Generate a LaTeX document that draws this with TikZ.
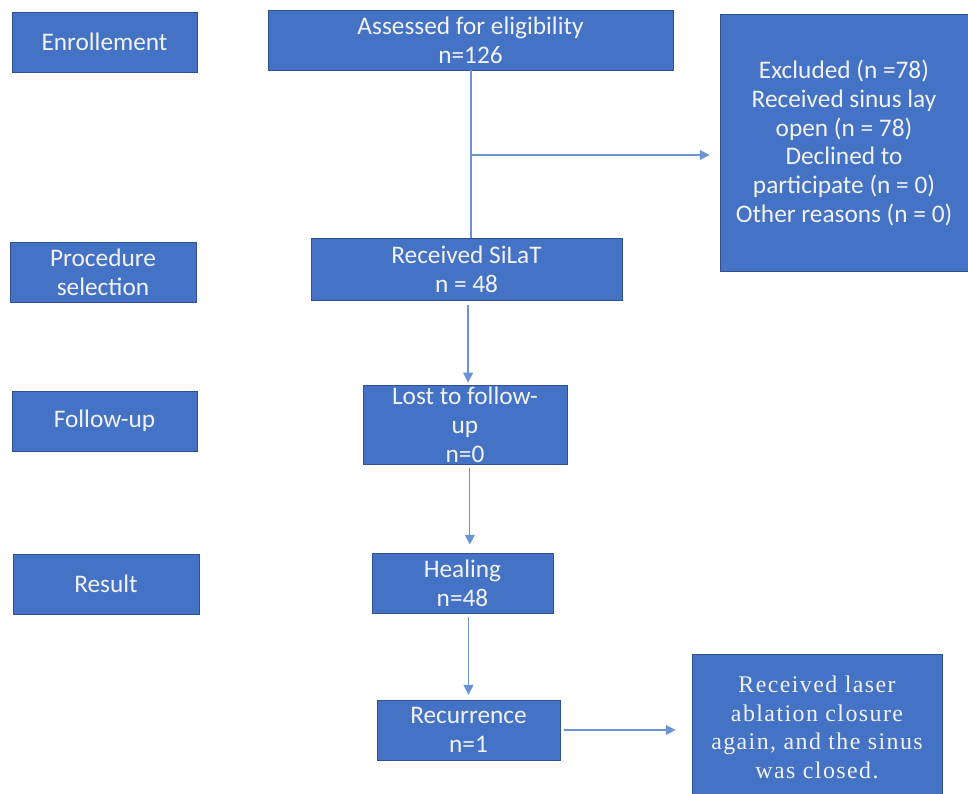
\documentclass[tikz,border=0pt]{standalone}
\usepackage{fontspec}
\setmainfont{Carlito}
\newfontfamily\laserfont[LetterSpace=6]{Liberation Serif}
\usetikzlibrary{arrows.meta,calc}
\definecolor{boxblue}{HTML}{4472C4}
\definecolor{boxedge}{HTML}{2F528F}
\definecolor{flowblue}{HTML}{6A93D6}
\begin{document}
\begin{tikzpicture}[
    stage/.style={draw=boxedge,fill=boxblue,text=white!95!black,line width=0.6pt,
        align=center,inner sep=0pt,font=\fontsize{18}{20.5}\selectfont},
    flow/.style={draw=flowblue,line width=0.9pt,-{Triangle[length=7pt,width=7pt]}},
    trunk/.style={draw=flowblue,line width=0.9pt}
]
    \useasboundingbox (0,0) rectangle (24.2,-19.825);
    \clip (0,0) rectangle (24.2,-19.825);
    %\draw (0,0) grid (24,-19);
    % left column
    \node[stage,minimum width=4.625cm,minimum height=1.5cm] (enrol) at (2.6125,-1.05) {Enrollement};
    \node[stage,minimum width=4.65cm,minimum height=1.5cm] (proc) at (2.575,-6.8) {Procedure\\selection};
    \node[stage,minimum width=4.625cm,minimum height=1.5cm] (fup) at (2.6125,-10.525) {Follow-up};
    \node[stage,minimum width=4.65cm,minimum height=1.5cm] (result) at (2.65,-14.6) {Result};
    % main flow
    \node[stage,minimum width=10.125cm,minimum height=1.5cm] (assess) at (11.7625,-1.0) {Assessed for eligibility\\n=126};
    \node[stage,minimum width=6.2cm,minimum height=6.425cm] (excl) at (21.1,-3.575) {Excluded (n =78)\\Received sinus lay\\open (n = 78)\\Declined to\\participate (n = 0)\\Other reasons (n = 0)};
    \node[stage,minimum width=7.775cm,minimum height=1.55cm] (silat) at (11.6625,-6.725) {Received SiLaT\\n = 48};
    \node[stage,minimum width=5.1cm,minimum height=1.975cm] (lost) at (11.625,-10.6125) {Lost to follow-\\up\\n=0};
    \node[stage,minimum width=4.525cm,minimum height=1.5cm] (heal) at (11.5625,-14.575) {Healing\\n=48};
    \node[stage,minimum width=4.575cm,minimum height=1.5cm] (recur) at (11.7125,-18.25) {Recurrence\\n=1};
    % box runs past the bottom edge
    \node[stage,minimum width=6.25cm,minimum height=5.1cm,font=\laserfont\fontsize{17}{20.5}\selectfont] (laser) at (20.425,-18.9) {Received laser\\ablation closure\\again, and the sinus\\was closed.\\\mbox{}\\\mbox{}};
    % connectors
    \coordinate (split) at (11.775,-3.875);
    \draw[trunk] (split |- assess.south) -- (split |- silat.north);
    \draw[flow,shorten >=0.25cm] (split) -- (split -| excl.west);
    \draw[flow,shorten <=0.12cm,shorten >=0.05cm] ([xshift=0.04cm]silat.south) -- ([xshift=0.04cm]silat.south |- lost.north);
    \draw[flow,shorten <=0.08cm,shorten >=0.2cm] ([xshift=0.12cm]lost.south) -- ([xshift=0.12cm]lost.south |- heal.north);
    \draw[flow,shorten <=0.1cm,shorten >=0.12cm] (heal.south -| recur.north) -- (recur.north);
    \draw[flow,shorten <=0.1cm,shorten >=0.4cm] (recur.east) -- (recur.east -| laser.west);
\end{tikzpicture}
\end{document}
